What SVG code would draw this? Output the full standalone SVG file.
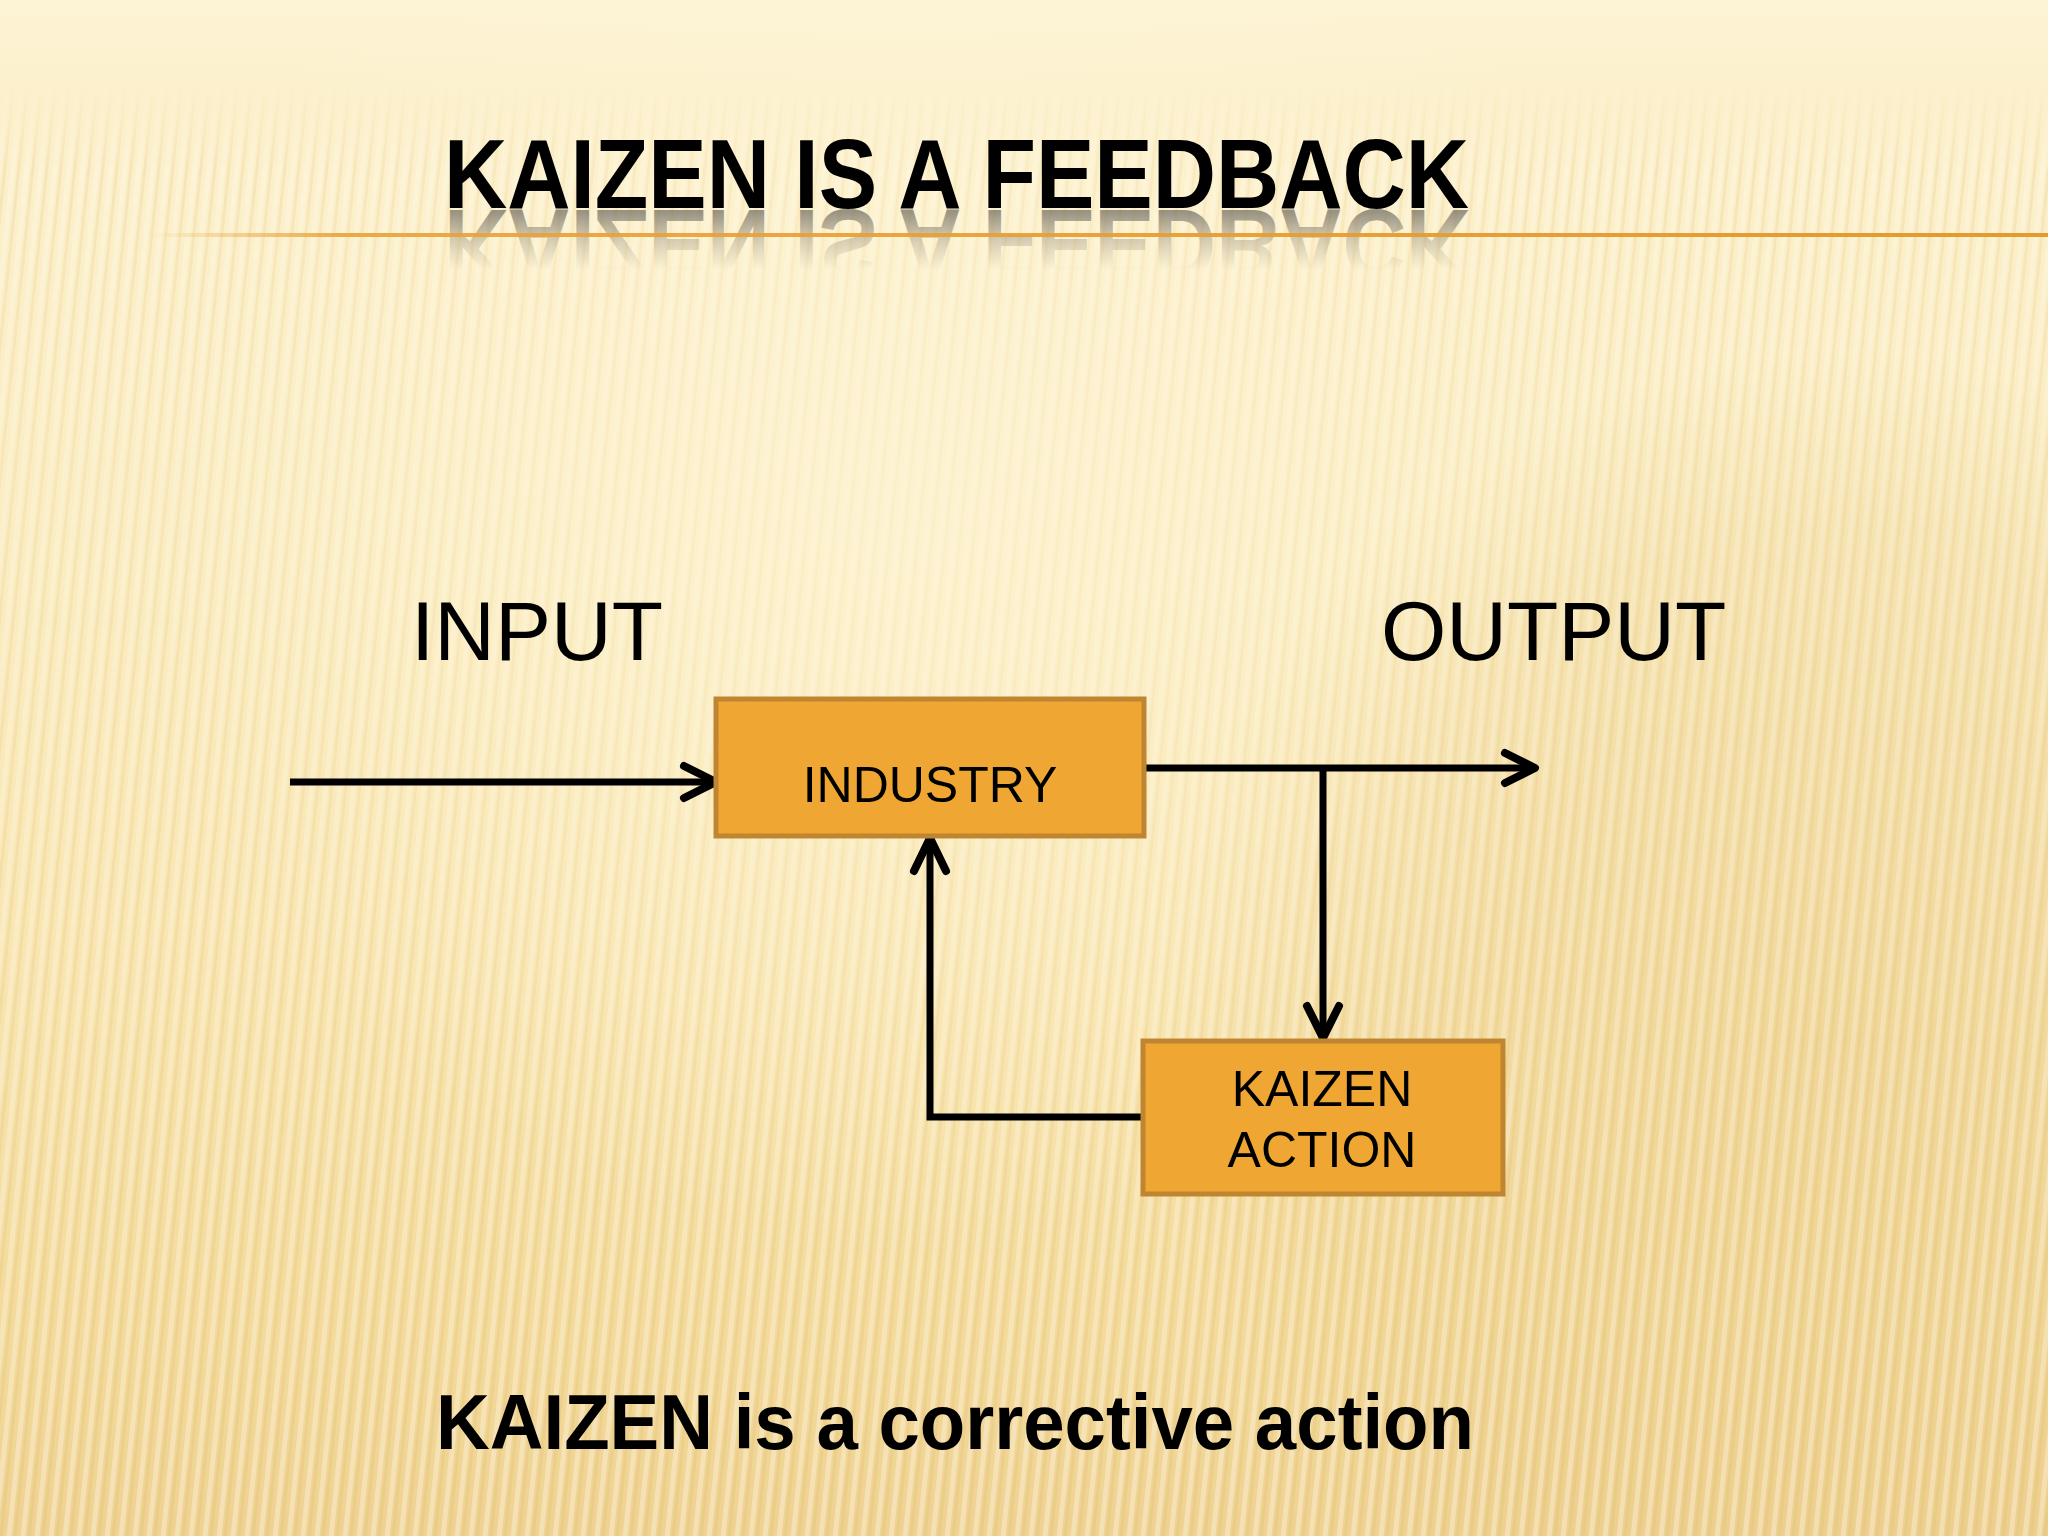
<svg xmlns="http://www.w3.org/2000/svg" width="2048" height="1536" viewBox="0 0 2048 1536">
<defs>
<style>
.lbl{font-family:"Liberation Sans",Arial,sans-serif;fill:#000}
.box{fill:#EFA632;stroke:#BF8530;stroke-width:5}
.con{fill:none;stroke:#000;stroke-width:7;stroke-linecap:butt;stroke-linejoin:miter}
.head{fill:none;stroke:#000;stroke-width:8;stroke-linecap:round;stroke-linejoin:round}
</style>
<linearGradient id="bg" x1="0" y1="0" x2="0" y2="1">
<stop offset="0" stop-color="#FDF4D6"/>
<stop offset="0.07" stop-color="#FCF0CB"/>
<stop offset="0.35" stop-color="#FBEDC2"/>
<stop offset="0.6" stop-color="#F9E6B2"/>
<stop offset="0.85" stop-color="#F4DB9C"/>
<stop offset="1" stop-color="#EFD291"/>
</linearGradient>
<radialGradient id="shade" cx="1850" cy="1050" r="700" gradientUnits="userSpaceOnUse">
<stop offset="0" stop-color="#E8C882" stop-opacity="0.45"/>
<stop offset="0.75" stop-color="#E8C882" stop-opacity="0.25"/>
<stop offset="1" stop-color="#E8C882" stop-opacity="0"/>
</radialGradient>
<radialGradient id="glow" cx="900" cy="500" r="750" gradientUnits="userSpaceOnUse">
<stop offset="0" stop-color="#FFF6D8" stop-opacity="0.6"/>
<stop offset="1" stop-color="#FFF6D8" stop-opacity="0"/>
</radialGradient>
<pattern id="str" width="14" height="40" patternUnits="userSpaceOnUse" patternTransform="skewX(-6)">
<rect x="0" y="0" width="5" height="40" fill="#FFFFFF" fill-opacity="0.32"/>
<rect x="7" y="0" width="3" height="40" fill="#D9B56A" fill-opacity="0.2"/>
</pattern>
<linearGradient id="fadeTop" x1="0" y1="0" x2="0" y2="1">
<stop offset="0" stop-color="#fff" stop-opacity="0"/>
<stop offset="0.055" stop-color="#fff" stop-opacity="0"/>
<stop offset="0.11" stop-color="#fff" stop-opacity="0.8"/>
<stop offset="0.3" stop-color="#fff" stop-opacity="0.6"/>
<stop offset="1" stop-color="#fff" stop-opacity="1"/>
</linearGradient>
<mask id="mTop">
<rect x="0" y="0" width="2048" height="1536" fill="url(#fadeTop)"/>
</mask>
<linearGradient id="lineG" x1="150" y1="0" x2="2048" y2="0" gradientUnits="userSpaceOnUse">
<stop offset="0" stop-color="#E9A23A" stop-opacity="0"/>
<stop offset="0.1" stop-color="#E9A23A" stop-opacity="0.9"/>
<stop offset="1" stop-color="#E39A2E"/>
</linearGradient>
<linearGradient id="reflG" x1="0" y1="253" x2="0" y2="195" gradientUnits="userSpaceOnUse">
<stop offset="0" stop-color="#6E6A60" stop-opacity="0.7"/>
<stop offset="0.5" stop-color="#7E7668" stop-opacity="0.3"/>
<stop offset="1" stop-color="#8A8170" stop-opacity="0"/>
</linearGradient>
</defs>

<g id="background">
<rect x="0" y="0" width="2048" height="1536" fill="url(#bg)"/>
<rect x="0" y="0" width="2048" height="1536" fill="url(#shade)"/>
<rect x="0" y="0" width="2048" height="1536" fill="url(#str)" mask="url(#mTop)"/>
<rect x="0" y="0" width="2048" height="1536" fill="url(#glow)"/>
</g>

<g id="title">
<text class="lbl" x="444" y="255" transform="translate(0,465) scale(1,-1)" font-size="99" font-weight="bold" textLength="1025" lengthAdjust="spacingAndGlyphs" style="fill:url(#reflG)">KAIZEN IS A FEEDBACK</text>
<rect x="150" y="233" width="1898" height="4" fill="url(#lineG)"/>
<text class="lbl" x="444" y="208" font-size="99" font-weight="bold" textLength="1025" lengthAdjust="spacingAndGlyphs">KAIZEN IS A FEEDBACK</text>
</g>

<g id="connectors">
<path class="con" d="M290 782 H714"/>
<path class="head" d="M684 766 L716 782 L684 798"/>
<path class="con" d="M1146 768 H1533"/>
<path class="head" d="M1505 753 L1535 768 L1505 783"/>
<path class="con" d="M1323 768 V1036"/>
<path class="head" d="M1307 1006 L1323 1038 L1339 1006"/>
<path class="con" d="M1142 1117 H930 V840"/>
<path class="head" d="M914 871 L930 838 L946 871"/>
</g>

<g id="label-input">
<text class="lbl" x="411" y="660" font-size="84">INPUT</text>
</g>
<g id="label-output">
<text class="lbl" x="1381" y="660" font-size="84">OUTPUT</text>
</g>

<g id="node-industry">
<rect class="box" x="716" y="699" width="428" height="137"/>
<text class="lbl" x="930" y="802" font-size="50" text-anchor="middle">INDUSTRY</text>
</g>

<g id="node-kaizen-action">
<rect class="box" x="1143" y="1041" width="360" height="153"/>
<text class="lbl" x="1322" y="1106" font-size="50" text-anchor="middle">KAIZEN</text>
<text class="lbl" x="1322" y="1167" font-size="50" text-anchor="middle">ACTION</text>
</g>

<g id="caption">
<text class="lbl" x="436" y="1449" font-size="78" font-weight="bold" textLength="1038" lengthAdjust="spacingAndGlyphs">KAIZEN is a corrective action</text>
</g>
</svg>
